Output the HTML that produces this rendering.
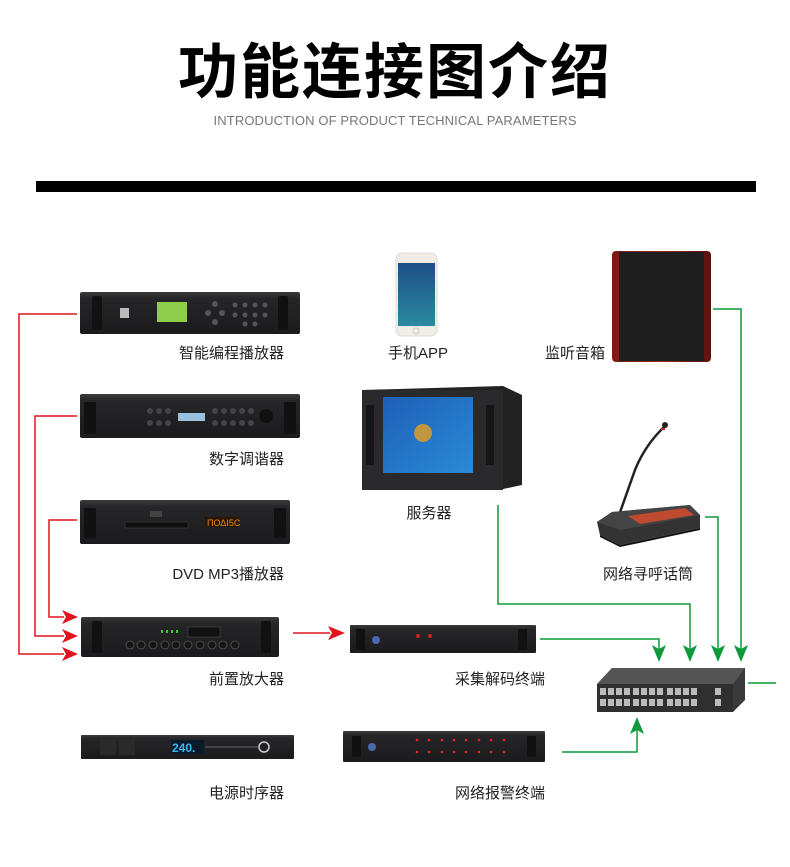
<!DOCTYPE html>
<html><head><meta charset="utf-8"><style>
html,body{margin:0;padding:0;background:#fff;}
svg{display:block}
text{font-family:"Liberation Sans","Noto Sans CJK SC",sans-serif;}
</style></head><body>
<svg width="790" height="867" viewBox="0 0 790 867" xmlns="http://www.w3.org/2000/svg">
<defs>
<linearGradient id="rk" x1="0" y1="0" x2="0" y2="1"><stop offset="0" stop-color="#3a3a3c"/><stop offset="0.15" stop-color="#262628"/><stop offset="1" stop-color="#1b1b1d"/></linearGradient>
<linearGradient id="wood" x1="0" y1="0" x2="1" y2="0"><stop offset="0" stop-color="#7a1a14"/><stop offset="0.5" stop-color="#9a2a1c"/><stop offset="1" stop-color="#5a120e"/></linearGradient>
<linearGradient id="win" x1="0" y1="0" x2="1" y2="1"><stop offset="0" stop-color="#1d5fb8"/><stop offset="1" stop-color="#2a8ad8"/></linearGradient>
<linearGradient id="ph" x1="0" y1="0" x2="0" y2="1"><stop offset="0" stop-color="#1e4f85"/><stop offset="1" stop-color="#2a8aa0"/></linearGradient>
</defs>
<text x="395" y="93" font-size="60" font-weight="bold" text-anchor="middle" fill="#000" letter-spacing="2">功能连接图介绍</text>
<text x="395" y="125" font-size="13" text-anchor="middle" fill="#777" textLength="363">INTRODUCTION OF PRODUCT TECHNICAL PARAMETERS</text>
<rect x="36" y="181" width="720" height="11" fill="#000"/>

<g>
<rect x="80" y="292" width="220" height="42" rx="2" fill="url(#rk)"/>
<rect x="92" y="296" width="10" height="34" rx="2" fill="#111"/><rect x="278" y="296" width="10" height="34" rx="2" fill="#111"/>
<rect x="157" y="302" width="30" height="20" fill="#8fce4a"/>
<rect x="120" y="308" width="9" height="10" fill="#bbb"/>
<g fill="#555"><circle cx="215" cy="304" r="3"/><circle cx="215" cy="322" r="3"/><circle cx="208" cy="313" r="3"/><circle cx="222" cy="313" r="3"/>
<circle cx="235" cy="305" r="2.5"/><circle cx="245" cy="305" r="2.5"/><circle cx="255" cy="305" r="2.5"/><circle cx="265" cy="305" r="2.5"/><circle cx="235" cy="315" r="2.5"/><circle cx="245" cy="315" r="2.5"/><circle cx="255" cy="315" r="2.5"/><circle cx="265" cy="315" r="2.5"/><circle cx="245" cy="324" r="2.5"/><circle cx="255" cy="324" r="2.5"/></g>
</g>
<g>
<rect x="80" y="394" width="220" height="44" rx="2" fill="url(#rk)"/>
<rect x="84" y="402" width="12" height="32" rx="2" fill="#111"/><rect x="284" y="402" width="12" height="32" rx="2" fill="#111"/>
<rect x="178" y="413" width="27" height="8" fill="#9ac0e0"/>
<circle cx="266" cy="416" r="7" fill="#111"/>
<g fill="#444"><circle cx="150" cy="411" r="3"/><circle cx="159" cy="411" r="3"/><circle cx="168" cy="411" r="3"/><circle cx="150" cy="423" r="3"/><circle cx="159" cy="423" r="3"/><circle cx="168" cy="423" r="3"/>
<circle cx="215" cy="411" r="3"/><circle cx="224" cy="411" r="3"/><circle cx="233" cy="411" r="3"/><circle cx="242" cy="411" r="3"/><circle cx="251" cy="411" r="3"/><circle cx="215" cy="423" r="3"/><circle cx="224" cy="423" r="3"/><circle cx="233" cy="423" r="3"/><circle cx="242" cy="423" r="3"/><circle cx="251" cy="423" r="3"/></g>
</g>
<g>
<rect x="80" y="500" width="210" height="44" rx="2" fill="url(#rk)"/>
<rect x="84" y="508" width="12" height="30" rx="2" fill="#111"/><rect x="274" y="508" width="12" height="30" rx="2" fill="#111"/>
<rect x="205" y="517" width="33" height="10" fill="#2a1505"/><text x="207" y="526" font-size="9" fill="#f08a10">ΠΟΔΙ5С</text>
<rect x="125" y="522" width="63" height="6" fill="#111" stroke="#444" stroke-width="0.5"/>
<rect x="150" y="511" width="12" height="6" fill="#444"/>
</g>
<g>
<rect x="81" y="617" width="198" height="40" rx="2" fill="url(#rk)"/>
<rect x="92" y="621" width="10" height="32" rx="2" fill="#111"/><rect x="261" y="621" width="10" height="32" rx="2" fill="#111"/>
<rect x="188" y="627" width="32" height="10" fill="#111" stroke="#555" stroke-width="0.5"/>
<g fill="#161616" stroke="#555" stroke-width="0.8"><circle cx="130" cy="645" r="4"/><circle cx="141" cy="645" r="4"/><circle cx="153" cy="645" r="4"/><circle cx="165" cy="645" r="4"/><circle cx="176" cy="645" r="4"/><circle cx="188" cy="645" r="4"/><circle cx="200" cy="645" r="4"/><circle cx="212" cy="645" r="4"/><circle cx="223" cy="645" r="4"/><circle cx="235" cy="645" r="4"/></g>
<g fill="#3c3"><rect x="161" y="630" width="2" height="3"/><rect x="166" y="630" width="2" height="3"/><rect x="171" y="630" width="2" height="3"/><rect x="176" y="630" width="2" height="3"/></g>
</g>
<g>
<rect x="81" y="735" width="213" height="24" rx="1" fill="url(#rk)"/>
<rect x="100" y="739" width="16" height="16" fill="#2a2a2a"/><rect x="119" y="739" width="16" height="16" fill="#2a2a2a"/>
<rect x="171" y="740" width="33" height="14" fill="#0a1a2a"/><text x="172" y="752" font-size="12" font-weight="bold" fill="#3ab8f0">240.</text>
<circle cx="264" cy="747" r="5" fill="none" stroke="#ccc" stroke-width="1.5"/>
<line x1="205" y1="747" x2="258" y2="747" stroke="#666"/>
</g>
<g>
<rect x="350" y="625" width="186" height="28" rx="1" fill="url(#rk)"/>
<rect x="356" y="629" width="9" height="21" fill="#111"/><rect x="518" y="629" width="9" height="21" fill="#111"/>
<circle cx="376" cy="640" r="4" fill="#4a6ab0"/>
<circle cx="418" cy="636" r="2" fill="#c22"/><circle cx="430" cy="636" r="2" fill="#c22"/>
</g>
<g>
<rect x="343" y="731" width="202" height="31" rx="1" fill="url(#rk)"/>
<rect x="352" y="736" width="9" height="21" fill="#111"/><rect x="527" y="736" width="9" height="21" fill="#111"/>
<circle cx="372" cy="747" r="4" fill="#4a6ab0"/>
<g fill="#e22"><circle cx="417" cy="740" r="1.3"/><circle cx="429" cy="740" r="1.3"/><circle cx="442" cy="740" r="1.3"/><circle cx="454" cy="740" r="1.3"/><circle cx="466" cy="740" r="1.3"/><circle cx="479" cy="740" r="1.3"/><circle cx="491" cy="740" r="1.3"/><circle cx="504" cy="740" r="1.3"/>
<circle cx="417" cy="752" r="1.3"/><circle cx="429" cy="752" r="1.3"/><circle cx="442" cy="752" r="1.3"/><circle cx="454" cy="752" r="1.3"/><circle cx="466" cy="752" r="1.3"/><circle cx="479" cy="752" r="1.3"/><circle cx="491" cy="752" r="1.3"/><circle cx="504" cy="752" r="1.3"/></g>
</g>

<rect x="396" y="253" width="41" height="83" rx="6" fill="#f0ede6" stroke="#ddd"/>
<rect x="398" y="263" width="37" height="63" fill="url(#ph)"/>
<circle cx="416" cy="331" r="3" fill="none" stroke="#ccc"/>
<rect x="612" y="251" width="99" height="111" rx="4" fill="url(#wood)"/>
<rect x="619" y="252" width="85" height="109" fill="#1e1e1e"/>
<polygon points="362,390 503,386 522,395 522,485 503,489 362,490" fill="#222"/>
<rect x="362" y="390" width="141" height="100" fill="#2a2a2c"/>
<rect x="383" y="397" width="90" height="76" fill="url(#win)"/>
<circle cx="423" cy="433" r="9" fill="#e8a020" opacity="0.8"/>
<rect x="366" y="405" width="8" height="60" fill="#151515"/><rect x="486" y="405" width="8" height="60" fill="#151515"/>
<!-- mic station -->
<path d="M665 426 Q645 445 635 470 L618 518" stroke="#222" stroke-width="2.5" fill="none"/>
<circle cx="665" cy="425" r="3" fill="#222"/><rect x="661" y="428" width="4" height="2" fill="#c22"/>
<polygon points="597,522 612,512 690,505 700,515 700,528 620,545 600,535" fill="#333"/>
<polygon points="597,522 612,512 690,505 700,515 620,530" fill="#444"/>
<polygon points="628,516 685,508 694,515 640,524" fill="#c04a30"/>
<polygon points="600,535 620,545 700,528 700,530 620,547 600,537" fill="#111"/>

<polygon points="597,684 612,668 745,668 745,700 733,712 597,712" fill="#3a3a3a"/>
<polygon points="597,684 612,668 745,668 733,684" fill="#555"/>
<rect x="597" y="684" width="136" height="28" fill="#2f2f2f"/>
<g fill="#bbb">
<rect x="600" y="688" width="6" height="7"/><rect x="608" y="688" width="6" height="7"/><rect x="616" y="688" width="6" height="7"/><rect x="624" y="688" width="6" height="7"/><rect x="633" y="688" width="6" height="7"/><rect x="641" y="688" width="6" height="7"/><rect x="649" y="688" width="6" height="7"/><rect x="657" y="688" width="6" height="7"/><rect x="667" y="688" width="6" height="7"/><rect x="675" y="688" width="6" height="7"/><rect x="683" y="688" width="6" height="7"/><rect x="691" y="688" width="6" height="7"/><rect x="715" y="688" width="6" height="7"/>
<rect x="600" y="699" width="6" height="7"/><rect x="608" y="699" width="6" height="7"/><rect x="616" y="699" width="6" height="7"/><rect x="624" y="699" width="6" height="7"/><rect x="633" y="699" width="6" height="7"/><rect x="641" y="699" width="6" height="7"/><rect x="649" y="699" width="6" height="7"/><rect x="657" y="699" width="6" height="7"/><rect x="667" y="699" width="6" height="7"/><rect x="675" y="699" width="6" height="7"/><rect x="683" y="699" width="6" height="7"/><rect x="691" y="699" width="6" height="7"/><rect x="715" y="699" width="6" height="7"/></g>

<g stroke="#e0141e" stroke-width="1.5" fill="none">
<polyline points="77,314 19,314 19,654 64,654"/>
<polyline points="77,416 35,416 35,636 64,636"/>
<polyline points="77,520 49,520 49,617 64,617"/>
<line x1="293" y1="633" x2="330" y2="633"/>
</g>
<g fill="#e0141e">
<polygon points="78,654 62,647 66,654 62,661"/>
<polygon points="78,636 62,629 66,636 62,643"/>
<polygon points="78,617 62,610 66,617 62,624"/>
<polygon points="345,633 328,626 332,633 328,640"/>
</g>
<g stroke="#0c9a3a" stroke-width="1.5" fill="none">
<polyline points="498,505 498,604 690,604 690,650"/>
<polyline points="705,517 718,517 718,650"/>
<polyline points="713,309 741,309 741,650"/>
<polyline points="540,639 659,639 659,650"/>
<polyline points="562,752 637,752 637,728"/>
<line x1="748" y1="683" x2="776" y2="683"/>
</g>
<g fill="#0c9a3a">
<polygon points="659,662 652,645 659,649 666,645"/>
<polygon points="690,662 683,645 690,649 697,645"/>
<polygon points="718,662 711,645 718,649 725,645"/>
<polygon points="741,662 734,645 741,649 748,645"/>
<polygon points="637,717 630,734 637,730 644,734"/>
</g>

<g font-size="15" fill="#222">
<text x="284" y="358" text-anchor="end">智能编程播放器</text>
<text x="284" y="464" text-anchor="end">数字调谐器</text>
<text x="284" y="579" text-anchor="end">DVD MP3播放器</text>
<text x="284" y="684" text-anchor="end">前置放大器</text>
<text x="284" y="798" text-anchor="end">电源时序器</text>
<text x="418" y="358" text-anchor="middle">手机APP</text>
<text x="575" y="358" text-anchor="middle">监听音箱</text>
<text x="429" y="518" text-anchor="middle">服务器</text>
<text x="648" y="579" text-anchor="middle">网络寻呼话筒</text>
<text x="545" y="684" text-anchor="end">采集解码终端</text>
<text x="545" y="798" text-anchor="end">网络报警终端</text>
</g>
</svg>
</body></html>
